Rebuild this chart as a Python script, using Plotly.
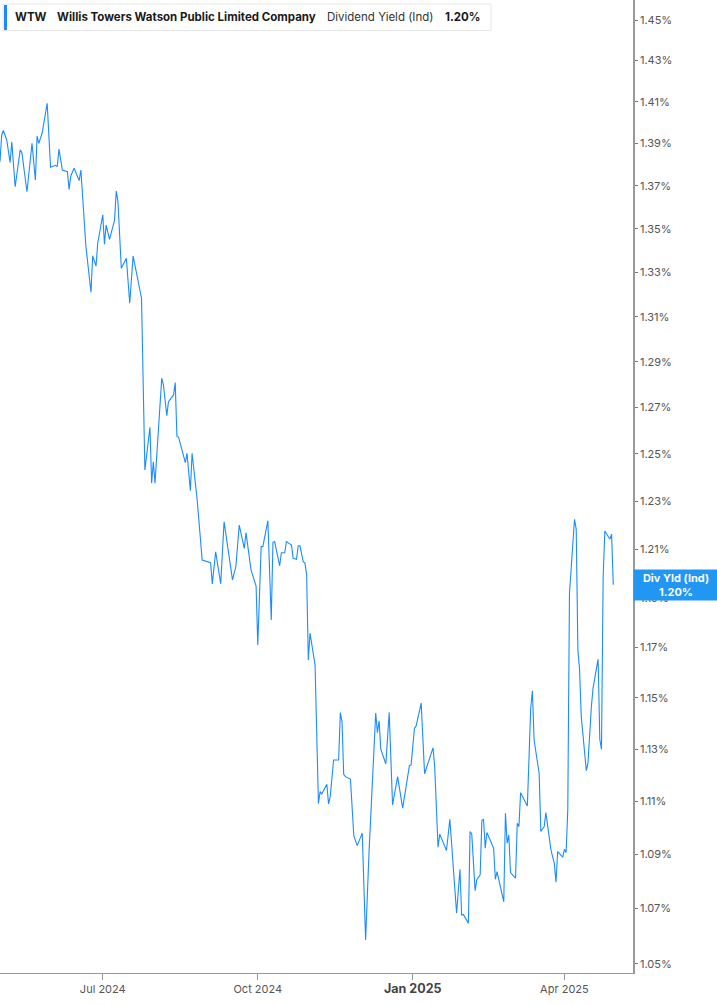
import math
import plotly.graph_objects as go

# ---- data ----
dates = [
    "2024-05-01", "2024-05-02", "2024-05-03", "2024-05-05", "2024-05-07", "2024-05-08", "2024-05-10",
    "2024-05-13", "2024-05-14", "2024-05-17", "2024-05-20", "2024-05-22", "2024-05-23", "2024-05-24",
    "2024-05-26", "2024-05-29", "2024-05-31", "2024-06-03", "2024-06-04", "2024-06-05", "2024-06-07",
    "2024-06-10", "2024-06-11", "2024-06-12", "2024-06-14", "2024-06-17", "2024-06-18", "2024-06-21",
    "2024-06-24", "2024-06-25", "2024-06-27", "2024-06-28", "2024-07-01", "2024-07-02", "2024-07-03",
    "2024-07-05", "2024-07-08", "2024-07-09", "2024-07-10", "2024-07-12", "2024-07-15", "2024-07-17",
    "2024-07-19", "2024-07-22", "2024-07-24", "2024-07-26", "2024-07-29", "2024-07-30", "2024-07-31",
    "2024-08-01", "2024-08-05", "2024-08-06", "2024-08-08", "2024-08-09", "2024-08-12", "2024-08-13",
    "2024-08-14", "2024-08-15", "2024-08-19", "2024-08-20", "2024-08-22", "2024-08-23", "2024-08-26",
    "2024-08-29", "2024-09-03", "2024-09-04", "2024-09-06", "2024-09-09", "2024-09-11", "2024-09-16",
    "2024-09-18", "2024-09-20", "2024-09-23", "2024-09-24", "2024-09-27", "2024-09-30", "2024-10-01",
    "2024-10-03", "2024-10-04", "2024-10-07", "2024-10-09", "2024-10-10", "2024-10-11", "2024-10-14",
    "2024-10-15", "2024-10-17", "2024-10-18", "2024-10-21", "2024-10-22", "2024-10-24", "2024-10-25",
    "2024-10-26", "2024-10-28", "2024-10-29", "2024-10-30", "2024-10-31", "2024-11-01", "2024-11-04",
    "2024-11-06", "2024-11-07", "2024-11-08", "2024-11-11", "2024-11-12", "2024-11-13", "2024-11-15",
    "2024-11-18", "2024-11-19", "2024-11-20", "2024-11-21", "2024-11-22", "2024-11-25", "2024-11-27",
    "2024-11-29", "2024-12-02", "2024-12-04", "2024-12-06", "2024-12-08", "2024-12-10", "2024-12-11",
    "2024-12-12", "2024-12-13", "2024-12-16", "2024-12-18", "2024-12-20", "2024-12-23", "2024-12-26",
    "2024-12-30", "2024-12-31", "2025-01-02", "2025-01-03", "2025-01-06", "2025-01-08", "2025-01-13",
    "2025-01-14", "2025-01-16", "2025-01-17", "2025-01-21", "2025-01-23", "2025-01-27", "2025-01-29",
    "2025-01-30", "2025-01-31", "2025-02-03", "2025-02-04", "2025-02-05", "2025-02-07", "2025-02-08",
    "2025-02-10", "2025-02-11", "2025-02-12", "2025-02-13", "2025-02-14", "2025-02-18", "2025-02-19",
    "2025-02-20", "2025-02-24", "2025-02-25", "2025-02-26", "2025-02-27", "2025-02-28", "2025-03-03",
    "2025-03-04", "2025-03-05", "2025-03-06", "2025-03-10", "2025-03-12", "2025-03-13", "2025-03-14",
    "2025-03-17", "2025-03-18", "2025-03-20", "2025-03-21", "2025-03-24", "2025-03-26", "2025-03-27",
    "2025-03-28", "2025-03-31", "2025-04-01", "2025-04-02", "2025-04-03", "2025-04-04", "2025-04-07",
    "2025-04-08", "2025-04-09", "2025-04-10", "2025-04-11", "2025-04-14", "2025-04-15", "2025-04-17",
    "2025-04-18", "2025-04-21", "2025-04-22", "2025-04-23", "2025-04-24", "2025-04-25", "2025-04-28",
    "2025-04-29", "2025-04-30",
]

div_yield = [
    1.3814, 1.3941, 1.3962, 1.3917, 1.3810, 1.3909, 1.3696,
    1.3870, 1.3857, 1.3673, 1.3901, 1.3728, 1.3936, 1.3901,
    1.3949, 1.4093, 1.3788, 1.3797, 1.3791, 1.3874, 1.3775,
    1.3767, 1.3684, 1.3747, 1.3783, 1.3725, 1.3775, 1.3419,
    1.3211, 1.3377, 1.3330, 1.3434, 1.3565, 1.3430, 1.3518,
    1.3452, 1.3541, 1.3676, 1.3627, 1.3320, 1.3365, 1.3161,
    1.3376, 1.3267, 1.3184, 1.2432, 1.2615, 1.2376, 1.2467,
    1.2376, 1.2828, 1.2799, 1.2665, 1.2726, 1.2755, 1.2809,
    1.2575, 1.2572, 1.2463, 1.2503, 1.2344, 1.2503, 1.2308,
    1.2055, 1.2044, 1.1957, 1.2089, 1.1957, 1.2214, 1.1973,
    1.2028, 1.2200, 1.2103, 1.2168, 1.2014, 1.1948, 1.1710,
    1.2110, 1.2110, 1.2218, 1.1810, 1.2127, 1.2131, 1.2031,
    1.2085, 1.2085, 1.2131, 1.2117, 1.2062, 1.2058, 1.2114,
    1.2114, 1.2048, 1.2042, 1.1994, 1.1650, 1.1757, 1.1630,
    1.1092, 1.1137, 1.1128, 1.1165, 1.1090, 1.1118, 1.1258,
    1.1258, 1.1442, 1.1407, 1.1203, 1.1194, 1.1185, 1.0970,
    1.0933, 1.0980, 1.0586, 1.0905, 1.1182, 1.1440, 1.1364,
    1.1410, 1.1300, 1.1243, 1.1442, 1.1086, 1.1194, 1.1074,
    1.1236, 1.1239, 1.1381, 1.1390, 1.1479, 1.1205, 1.1305,
    1.1233, 1.0927, 1.0976, 1.0915, 1.1032, 1.0683, 1.0845,
    1.0677, 1.0679, 1.0647, 1.0986, 1.0977, 1.0766, 1.0806,
    1.0824, 1.1027, 1.1032, 1.0923, 1.0982, 1.0923, 1.0808,
    1.0836, 1.0725, 1.1055, 1.0942, 1.0973, 1.0833, 1.0812,
    1.1017, 1.1005, 1.1133, 1.1082, 1.1459, 1.1528, 1.1335,
    1.1207, 1.0986, 1.1005, 1.1057, 1.0917, 1.0867, 1.0797,
    1.0911, 1.0890, 1.0919, 1.0907, 1.1067, 1.1918, 1.2224,
    1.2183, 1.1690, 1.1610, 1.1426, 1.1217, 1.1248, 1.1465,
    1.1538, 1.1653, 1.1338, 1.1299, 1.1987, 1.2175, 1.2141,
    1.2162, 1.1953,
]

y_ticks = [1.05, 1.07, 1.09, 1.11, 1.13, 1.15, 1.17, 1.19, 1.21, 1.23, 1.25,
           1.27, 1.29, 1.31, 1.33, 1.35, 1.37, 1.39, 1.41, 1.43, 1.45]
x_tick_dates = ["2024-07-01", "2024-10-01", "2025-01-01", "2025-04-01"]
x_tick_labels = ["Jul 2024", "Oct 2024",
                 "<b><span style='font-size:12.5px;color:#444'>Jan 2025</span></b>", "Apr 2025"]

ticker = "WTW"
company = "Willis Towers Watson Public Limited Company"
metric = "Dividend Yield (Ind)"
badge_label = "Div Yld (Ind)"

LINE = "#1a8cff"
last_val = div_yield[-1]
last_txt = f"{last_val:.2f}%"

# ---- figure ----
W, H = 717, 1005
L, R, T, B = 0, 84, 0, 32
PW, PH = W - L - R, H - T - B

fig = go.Figure()
fig.add_trace(go.Scatter(
    x=dates, y=div_yield, mode="lines",
    line=dict(color=LINE, width=1.1),
    hoverinfo="skip", showlegend=False,
))

FONT = "Inter, Roboto, sans-serif"

fig.update_layout(
    width=W, height=H,
    margin=dict(l=L, r=R, t=T, b=B, pad=0),
    paper_bgcolor="white", plot_bgcolor="white",
    font=dict(family=FONT, size=11, color="#555"),
    showlegend=False,
    xaxis=dict(
        type="date",
        range=["2024-05-01", "2025-05-11 17:00"],
        tickvals=x_tick_dates, ticktext=x_tick_labels,
        ticks="outside", ticklen=6, tickcolor="#999", tickwidth=1,
        showline=True, linecolor="#999", linewidth=1,
        showgrid=False, zeroline=False,
        tickfont=dict(size=11, color="#555"),
        fixedrange=True,
    ),
    yaxis=dict(
        type="log", side="right",
        range=[math.log10(1.0467), math.log10(1.45995)],
        tickvals=y_ticks, ticktext=[f"{v:.2f}%" for v in y_ticks],
        ticks="outside", ticklen=3, tickcolor="#777", tickwidth=1,
        showline=True, linecolor="#999", linewidth=1.5,
        showgrid=False, zeroline=False,
        tickfont=dict(size=11, color="#555"),
        fixedrange=True,
    ),
)

def px_x(p):
    return p / PW

def px_y(p):
    return 1 - p / PH

# legend box
fig.add_shape(type="rect", xref="paper", yref="paper",
              x0=px_x(3), x1=px_x(491), y0=px_y(4), y1=px_y(30.5),
              line=dict(color="#e6e6e6", width=1), fillcolor="white", layer="above")
fig.add_shape(type="rect", xref="paper", yref="paper",
              x0=px_x(4), x1=px_x(7), y0=px_y(5), y1=px_y(30),
              line=dict(width=0), fillcolor=LINE, layer="above")

legend_parts = [
    (13, f"<b>{ticker}</b>", "#1a1a1a"),
    (55, f"<b>{company}</b>", "#1a1a1a"),
    (325, metric, "#333"),
    (443, f"<b>{last_txt}</b>", "#1a1a1a"),
]
for xp, txt, col in legend_parts:
    fig.add_annotation(xref="paper", yref="paper", x=px_x(xp), y=px_y(17),
                       xanchor="left", yanchor="middle", showarrow=False,
                       text=txt, font=dict(family=FONT, size=11.5, color=col))

# end-value badge
fig.add_annotation(xref="paper", yref="y", x=1, y=math.log10(last_val),
                   xanchor="left", yanchor="middle", showarrow=False,
                   text=f"<b>{badge_label}<br>{last_txt}</b>",
                   font=dict(family=FONT, size=11, color="white"),
                   bgcolor="#2196f3", width=80, height=26, borderpad=2,
                   align="center")

fig.write_html("out.html", config={"displayModeBar": False},
               post_script="document.body.style.margin='0';")
